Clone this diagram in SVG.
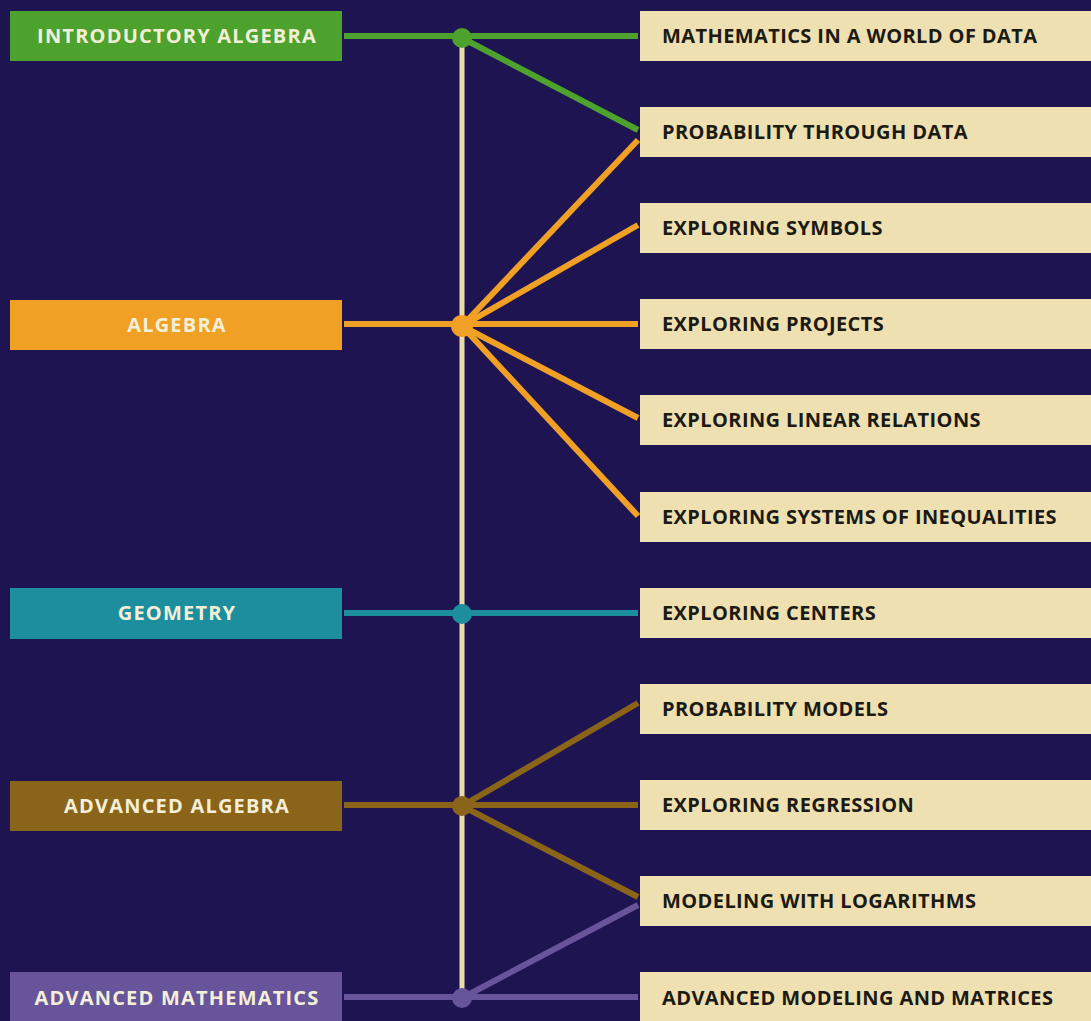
<svg xmlns="http://www.w3.org/2000/svg" width="1091" height="1021" viewBox="0 0 1091 1021">
<style>
.bg{fill:#1f1452}
.lt{font-family:"Open Sans","Noto Sans",sans-serif;font-weight:700;font-size:20px;letter-spacing:1.2px;fill:#f4efd8;text-anchor:middle}
.rt{font-family:"Open Sans","Noto Sans",sans-serif;font-weight:700;font-size:20px;letter-spacing:0.4px;fill:#1c1a14}
.rb{fill:#eee0b0}
.ln{fill:none;stroke-width:6;stroke-linecap:butt}
.g{stroke:#4ca22c}.o{stroke:#f0a024}.t{stroke:#1c8e9e}.b{stroke:#8a6418}.p{stroke:#67549a}
</style>
<rect class="bg" x="0" y="0" width="1091" height="1021"/>
<g id="connectors">
<line x1="462" y1="38" x2="462" y2="998" stroke="#eadcaa" stroke-width="5"/>
<g class="ln g"><line x1="344" y1="36" x2="638" y2="36"/><line x1="462" y1="38" x2="638" y2="130"/></g>
<circle cx="462" cy="38" r="10" fill="#4ca22c"/>
<g class="ln o"><line x1="344" y1="324" x2="638" y2="324"/><line x1="462" y1="326" x2="638" y2="140"/><line x1="462" y1="326" x2="638" y2="225"/><line x1="462" y1="326" x2="638" y2="418"/><line x1="462" y1="326" x2="638" y2="516"/></g>
<circle cx="462" cy="326" r="11" fill="#f0a024"/>
<g class="ln t"><line x1="344" y1="613" x2="638" y2="613"/></g>
<circle cx="462" cy="614" r="10" fill="#1c8e9e"/>
<g class="ln b"><line x1="344" y1="805" x2="638" y2="805"/><line x1="462" y1="806" x2="638" y2="703"/><line x1="462" y1="806" x2="638" y2="897"/></g>
<circle cx="462" cy="806" r="10" fill="#8a6418"/>
<g class="ln p"><line x1="344" y1="997" x2="638" y2="997"/><line x1="462" y1="998" x2="638" y2="905"/></g>
<circle cx="462" cy="998" r="10" fill="#67549a"/>
</g>
<g id="n-intro"><rect x="10" y="11" width="332" height="50" fill="#4ca22c"/><text class="lt" x="177" y="43">INTRODUCTORY ALGEBRA</text></g>
<g id="n-algebra"><rect x="10" y="300" width="332" height="50" fill="#f0a024"/><text class="lt" x="177" y="332">ALGEBRA</text></g>
<g id="n-geometry"><rect x="10" y="588" width="332" height="51" fill="#1c8e9e"/><text class="lt" x="177" y="620">GEOMETRY</text></g>
<g id="n-advalg"><rect x="10" y="781" width="332" height="50" fill="#8a6418"/><text class="lt" x="177" y="813">ADVANCED ALGEBRA</text></g>
<g id="n-advmath"><rect x="10" y="972" width="332" height="49" fill="#67549a"/><text class="lt" x="177" y="1005">ADVANCED MATHEMATICS</text></g>
<g id="r1"><rect class="rb" x="640" y="11" width="451" height="50"/><text class="rt" x="662" y="43">MATHEMATICS IN A WORLD OF DATA</text></g>
<g id="r2"><rect class="rb" x="640" y="107" width="451" height="50"/><text class="rt" x="662" y="139">PROBABILITY THROUGH DATA</text></g>
<g id="r3"><rect class="rb" x="640" y="203" width="451" height="50"/><text class="rt" x="662" y="235">EXPLORING SYMBOLS</text></g>
<g id="r4"><rect class="rb" x="640" y="299" width="451" height="50"/><text class="rt" x="662" y="331">EXPLORING PROJECTS</text></g>
<g id="r5"><rect class="rb" x="640" y="395" width="451" height="50"/><text class="rt" x="662" y="427">EXPLORING LINEAR RELATIONS</text></g>
<g id="r6"><rect class="rb" x="640" y="492" width="451" height="50"/><text class="rt" x="662" y="524">EXPLORING SYSTEMS OF INEQUALITIES</text></g>
<g id="r7"><rect class="rb" x="640" y="588" width="451" height="50"/><text class="rt" x="662" y="620">EXPLORING CENTERS</text></g>
<g id="r8"><rect class="rb" x="640" y="684" width="451" height="50"/><text class="rt" x="662" y="716">PROBABILITY MODELS</text></g>
<g id="r9"><rect class="rb" x="640" y="780" width="451" height="50"/><text class="rt" x="662" y="812">EXPLORING REGRESSION</text></g>
<g id="r10"><rect class="rb" x="640" y="876" width="451" height="50"/><text class="rt" x="662" y="908">MODELING WITH LOGARITHMS</text></g>
<g id="r11"><rect class="rb" x="640" y="972" width="451" height="49"/><text class="rt" x="662" y="1005">ADVANCED MODELING AND MATRICES</text></g>
</svg>
